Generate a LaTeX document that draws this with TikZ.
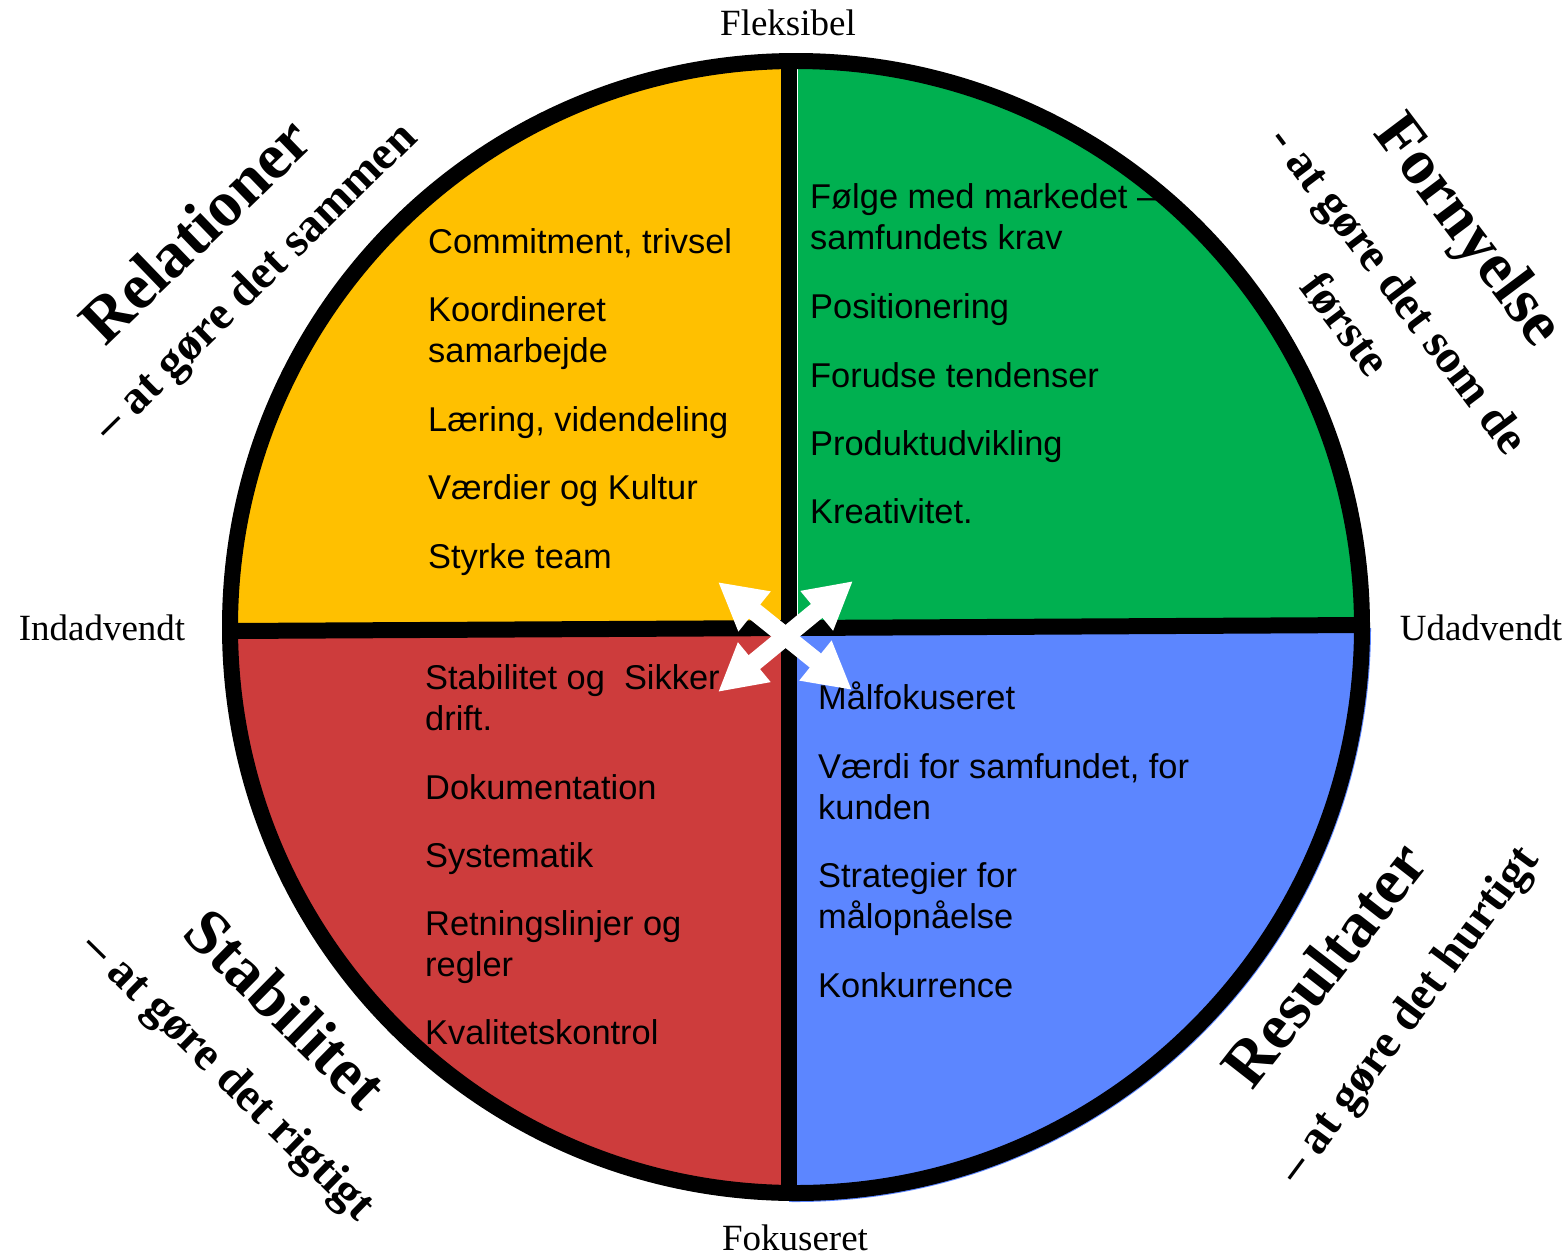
\documentclass[tikz,border=0pt]{standalone}
\usepackage{fontspec}
\setmainfont{Liberation Serif}
\newfontfamily\itemfont{Liberation Sans}
\usetikzlibrary{arrows.meta}
\definecolor{qyellow}{RGB}{255,192,0}
\definecolor{qgreen}{RGB}{0,176,80}
\definecolor{qred}{RGB}{205,60,60}
\definecolor{qblue}{RGB}{92,134,255}

\begin{document}
\begin{tikzpicture}[x=1pt,y=-1pt,
  itemtext/.style={font=\itemfont\fontsize{34.4}{41}\selectfont, anchor=base west, inner sep=0pt},
  axislabel/.style={font=\fontsize{37}{44}\selectfont, anchor=base, inner sep=0pt},
  quadtitle/.style={font=\bfseries\fontsize{65}{76}\selectfont, inner sep=0pt},
  quadsub/.style={font=\bfseries\fontsize{47.5}{56}\selectfont, inner sep=0pt},
  divider/.style={line width=16pt},
  crossarrow/.style={white, line width=18pt,
    {Triangle[length=47pt,width=48pt]}-{Triangle[length=47pt,width=48pt]}}
]
\useasboundingbox (0,0) rectangle (1568,1256);
\coordinate (c) at (796,627);

% quadrant fills
\begin{scope}
  \clip (c) circle[radius=575pt];
  \fill[qblue] (789,628) rectangle (1400,1220);
\end{scope}
\begin{scope}
  \clip (c) circle[radius=566pt];
  \fill[qyellow] (220,40) rectangle (789,630);
  \fill[qgreen] (798,40) rectangle (1380,628);
  \fill[qred] (220,628) rectangle (789,1210);
\end{scope}

% rim and dividers
\draw[line width=16pt] (c) circle[radius=566pt];
\coordinate (top) at (789,61);
\coordinate (bottom) at (789,1193);
\coordinate (left) at (229,631);
\coordinate (right) at (1363,625);
\draw[divider] (top) -- (bottom);
\draw[divider] (left) -- (right);

% axis labels
\node[axislabel] (flex) at (788,35) {Fleksibel};
\node[axislabel] (fok) at (795,1250) {Fokuseret};
\node[axislabel] (ind) at (102,640) {Indadvendt};
\node[axislabel] (ud) at (1481,640) {Udadvendt};

% yellow quadrant
\node[itemtext] (y1) at (428,253) {Commitment, trivsel};
\node[itemtext] (y2) at (428,321) {Koordineret};
\node[itemtext] (y2b) at (428,362) {samarbejde};
\node[itemtext] (y3) at (428,431) {Læring, videndeling};
\node[itemtext] (y4) at (428,499) {Værdier og Kultur};
\node[itemtext] (y5) at (428,568) {Styrke team};

% green quadrant
\node[itemtext] (g1) at (810,208) {Følge med markedet –};
\node[itemtext] (g1b) at (810,249) {samfundets krav};
\node[itemtext] (g2) at (810,318) {Positionering};
\node[itemtext] (g3) at (810,387) {Forudse tendenser};
\node[itemtext] (g4) at (810,455) {Produktudvikling};
\node[itemtext] (g5) at (810,523) {Kreativitet.};

% red quadrant
\node[itemtext] (r1) at (425,689) {Stabilitet og\ \ Sikker};
\node[itemtext] (r1b) at (425,730) {drift.};
\node[itemtext] (r2) at (425,799) {Dokumentation};
\node[itemtext] (r3) at (425,867) {Systematik};
\node[itemtext] (r4) at (425,935) {Retningslinjer og};
\node[itemtext] (r4b) at (425,976) {regler};
\node[itemtext] (r5) at (425,1044) {Kvalitetskontrol};

% blue quadrant
\node[itemtext] (b1) at (818,709) {Målfokuseret};
\node[itemtext] (b2) at (818,778) {Værdi for samfundet, for};
\node[itemtext] (b2b) at (818,819) {kunden};
\node[itemtext] (b3) at (818,887) {Strategier for};
\node[itemtext] (b3b) at (818,928) {målopnåelse};
\node[itemtext] (b4) at (818,997) {Konkurrence};

% quadrant headings
\node[quadtitle, rotate=44] (relT) at (195,230) {Relationer};
\node[quadsub, rotate=44.5] (relS) at (257,283) {– at gøre det sammen};
\node[quadtitle, rotate=-53] (forT) at (1466,232) {Fornyelse};
\node[quadsub, rotate=-53] (forS) at (1396,292) {- at gøre det som de};
\node[quadsub, rotate=-53] (forS2) at (1346,324) {første};
\node[quadtitle, rotate=-44.5] (staT) at (286,1008) {Stabilitet};
\node[quadsub, rotate=-44.5] (staS) at (227,1078) {– at gøre det rigtigt};
\node[quadtitle, rotate=52] (resT) at (1324,964) {Resultater};
\node[quadsub, rotate=53.5] (resS) at (1410,1016) {– at gøre det hurtigt};

% crossing double arrows
\coordinate (aNW) at (718,582);
\coordinate (aSE) at (852,690);
\coordinate (aNE) at (853,581);
\coordinate (aSW) at (718,692);
\draw[crossarrow] (aNW) -- (aSE);
\draw[crossarrow] (aSW) -- (aNE);
\end{tikzpicture}
\end{document}
